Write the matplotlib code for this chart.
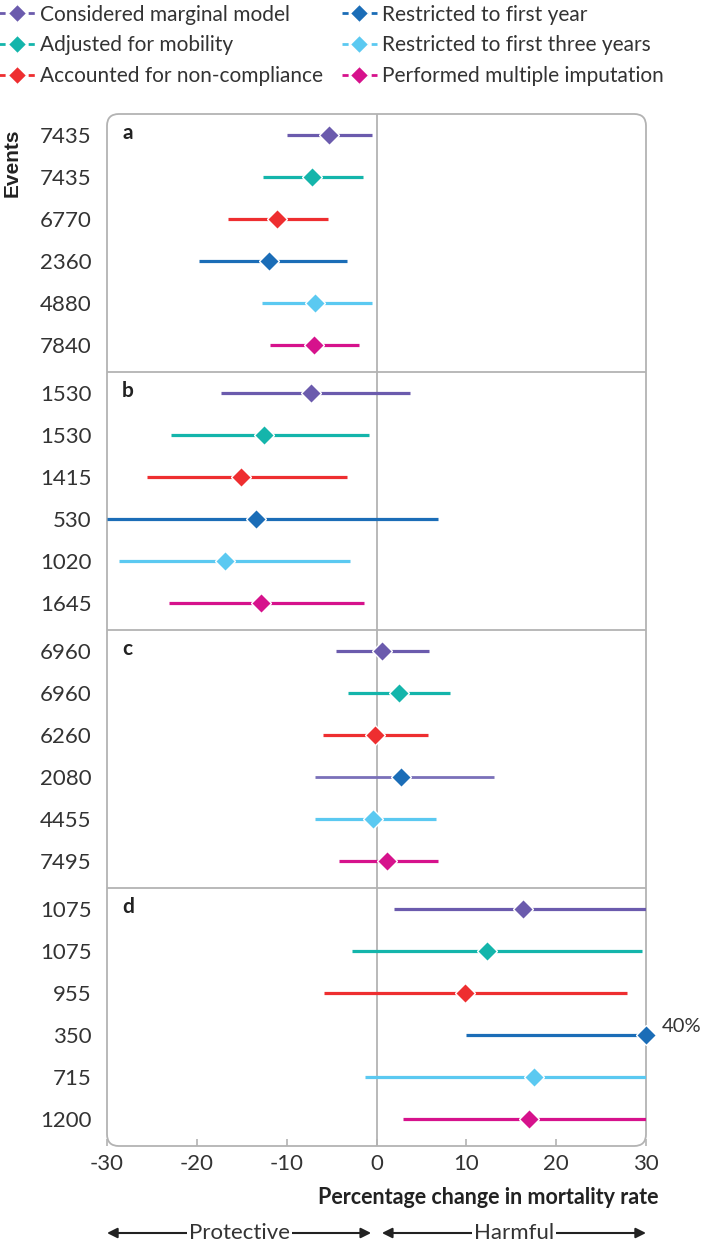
import numpy as np
import matplotlib
matplotlib.use("Agg")
from matplotlib import pyplot as plt
from matplotlib.lines import Line2D
from matplotlib.patches import FancyBboxPatch
from matplotlib.transforms import blended_transform_factory

plt.rcParams['font.family'] = ['Lato', 'DejaVu Sans']

# sensitivity analyses (legend order)
labels = ['Considered marginal model', 'Adjusted for mobility',
          'Accounted for non-compliance', 'Restricted to first year',
          'Restricted to first three years', 'Performed multiple imputation']
colors = ['#6b5bad', '#14b5ab', '#ee2e30', '#1b6db7', '#5bc9f1', '#d6128c']

panels = ['a', 'b', 'c', 'd']

events_a = [7435, 7435, 6770, 2360, 4880, 7840]
est_a = [-5.3, -7.2, -11.1, -12.0, -6.9, -7.0]
lo_a = [-10.0, -12.6, -16.5, -19.8, -12.7, -11.8]
hi_a = [-0.5, -1.5, -5.4, -3.3, -0.5, -1.9]

events_b = [1530, 1530, 1415, 530, 1020, 1645]
est_b = [-7.3, -12.5, -15.1, -13.4, -16.9, -12.9]
lo_b = [-17.3, -22.9, -25.6, -30.0, -28.7, -23.1]
hi_b = [3.7, -0.8, -3.3, 6.8, -3.0, -1.4]

events_c = [6960, 6960, 6260, 2080, 4455, 7495]
est_c = [0.6, 2.5, -0.2, 2.7, -0.4, 1.2]
lo_c = [-4.5, -3.2, -6.0, -6.8, -6.9, -4.2]
hi_c = [5.8, 8.2, 5.7, 13.1, 6.6, 6.9]

events_d = [1075, 1075, 955, 350, 715, 1200]
est_d = [16.3, 12.3, 9.8, 40.0, 17.5, 17.0]
lo_d = [1.9, -2.7, -5.8, 10.0, -1.3, 3.0]
hi_d = [30, 29.6, 27.9, 30, 30, 30]

events = [events_a, events_b, events_c, events_d]
est = [est_a, est_b, est_c, est_d]
lo = [lo_a, lo_b, lo_c, lo_d]
hi = [hi_a, hi_b, hi_c, hi_d]

xticks = [-30, -20, -10, 0, 10, 20, 30]
xmin, xmax = -30, 30

PH = 6.15  # height of one panel in row units
grey = '#b3b3b3'
txt = '#333333'
fs = 16

fig = plt.figure(figsize=(7.02, 12.47), dpi=100)
ax = fig.add_axes([107 / 702, 1 - 1146 / 1247, 539 / 702, 1032 / 1247])

yticks = []
yticklabels = []
for p in range(4):
    for i in range(6):
        y = p * PH + 0.5 + i
        yticks.append(y)
        yticklabels.append(str(events[p][i]))
        lc = colors[i]
        lw = 2.3
        # panel c, first-year line is drawn in purple in the original
        if p == 2 and i == 3:
            lc = '#7a70b9'
            lw = 2.0
        ax.plot([lo[p][i], hi[p][i]], [y, y], color=lc, lw=lw,
                solid_capstyle='butt', zorder=3)
        ax.plot(min(est[p][i], xmax), y, marker='D', ms=10, color=colors[i],
                mec='white', mew=1.0, zorder=4, clip_on=False)
    ax.text(0.028, p * PH + 0.45, panels[p], transform=blended_transform_factory(ax.transAxes, ax.transData),
            fontsize=15, fontweight='bold', color='#222222', va='center', ha='left')

# label for the off-scale estimate
ax.annotate('%d%%' % est_d[3], xy=(xmax, 3 * PH + 0.5 + 3), xytext=(11, 6),
            textcoords='offset points', fontsize=14.5, color=txt, va='center',
            annotation_clip=False)

for p in range(1, 4):
    ax.axhline(p * PH, color=grey, lw=1.3, zorder=1)
ax.axvline(0, color=grey, lw=1.3, zorder=1)

ax.set_xlim(xmin, xmax)
ax.set_ylim(4 * PH, 0)
ax.set_yticks(yticks)
ax.set_yticklabels(yticklabels)
ax.set_xticks(xticks)
ax.set_xticklabels([str(t) for t in xticks])
ax.tick_params(axis='y', length=0, pad=11, labelsize=fs, labelcolor=txt)
ax.tick_params(axis='x', direction='in', length=5, width=1.2, color=grey,
               pad=6, labelsize=fs, labelcolor=txt)
for s in ax.spines.values():
    s.set_visible(False)

# rounded frame
frame = FancyBboxPatch((0, 0), 1, 1, boxstyle='round,pad=0,rounding_size=0.022',
                       mutation_aspect=539 / 1032, transform=ax.transAxes,
                       fill=False, edgecolor=grey, lw=1.3, zorder=2, clip_on=False)
ax.add_patch(frame)

fig.text(12 / 702, 1 - 163 / 1247, 'Events', rotation=90, fontsize=15,
         fontweight='bold', color='#222222', ha='center', va='center',
         family=['Liberation Sans', 'DejaVu Sans'])

fig.text(658 / 702, 1 - 1198 / 1247, 'Percentage change in mortality rate',
         fontsize=15.5, fontweight='bold', color='#222222', ha='right', va='center')

# protective / harmful arrows
tr = blended_transform_factory(ax.transData, fig.transFigure)
ya = 1 - 1233 / 1247
for (x0, x1, name) in [(-30, -0.6, 'Protective'), (0.6, 30, 'Harmful')]:
    ax.annotate('', xy=(x0, ya), xytext=(x1, ya), xycoords=tr, textcoords=tr,
                arrowprops=dict(arrowstyle='<|-|>', color='#222222', lw=1.5,
                                shrinkA=0, shrinkB=0, mutation_scale=15),
                annotation_clip=False)
    ax.text((x0 + x1) / 2, ya, name, transform=tr, fontsize=fs, color=txt,
            ha='center', va='center',
            bbox=dict(facecolor='white', edgecolor='none', pad=1.5))

handles = [Line2D([], [], color=c, lw=2.0, linestyle=(0, (2.2, 1.3)), marker='D',
                  ms=9, mec='white', mew=0.8) for c in colors]
fig.legend(handles, labels, loc='upper left', bbox_to_anchor=(-0.004, 0.998),
           ncol=2, frameon=False, fontsize=15, handlelength=1.7,
           handletextpad=0.25, columnspacing=0.9, labelspacing=0.52,
           borderpad=0.1, borderaxespad=0, labelcolor=txt)

fig.savefig('out.png', dpi=100)
